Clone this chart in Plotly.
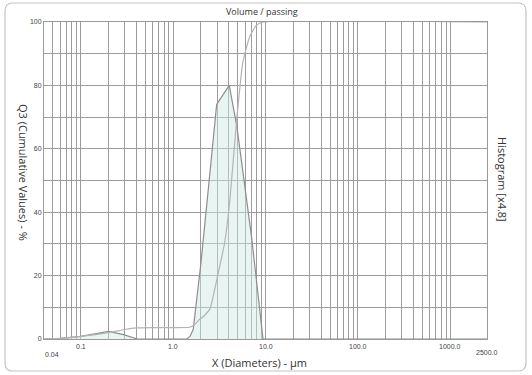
import math
import plotly.graph_objects as go

# ---------------- data ----------------
# density / histogram curve (x4.8), volume %
hist_x = [0.04, 0.06, 0.1, 0.2, 0.29, 0.41, 1.41, 1.52, 1.65, 1.8, 2.0, 2.38, 2.96, 4.05, 4.9, 7.08, 9.4, 2500]
hist_y = [0.0, 0.2, 0.8, 2.4, 1.4, 0.0, 0.0, 0.8, 3.0, 12.0, 24.0, 46.0, 74.0, 80.0, 67.0, 32.0, 0.0, 0.0]

# cumulative Q3 curve, %
cum_x = [0.04, 0.06, 0.1, 0.2, 0.3, 0.4, 0.6, 1.0, 1.5, 1.7, 1.9, 2.2, 2.5, 2.96, 3.64, 4.12, 4.87, 5.7, 6.78, 8.0, 9.4, 2500]
cum_y = [0.0, 0.2, 0.8, 2.0, 3.0, 3.5, 3.6, 3.6, 3.7, 4.5, 6.0, 7.5, 9.5, 18.5, 31.0, 44.0, 69.0, 87.5, 95.5, 99.0, 100.0, 100.0]

x_grid_vals = [0.05, 0.06, 0.07, 0.08, 0.09, 0.1, 0.2, 0.3, 0.4, 0.5, 0.6, 0.7, 0.8, 0.9,
               1, 2, 3, 4, 5, 6, 7, 8, 9, 10, 20, 30, 40, 50, 60, 70, 80, 90,
               100, 200, 300, 400, 500, 600, 700, 800, 900, 1000]
x_tick_vals = [0.04, 0.1, 1, 10, 100, 1000, 2500]
x_tick_text = ["0.04", "0.1", "1.0", "10.0", "100.0", "1000.0", "2500.0"]
y_grid_vals = [0, 10, 20, 30, 40, 50, 60, 70, 80, 90, 100]
y_tick_text = ["0", "", "20", "", "40", "", "60", "", "80", "", "100"]

# ---------------- figure ----------------
W, H = 532, 375
L, R, T, B = 44, 45, 22, 36
pw, ph = W - L - R, H - T - B

def px(xp):
    return (xp - L) / pw

def py(yp):
    return (H - B - yp) / ph

fig = go.Figure()
fig.add_trace(go.Scatter(
    x=hist_x, y=hist_y, mode="lines",
    line=dict(color="#8e8e8e", width=1.2),
    fill="tozeroy", fillcolor="rgba(205,233,228,0.45)",
    hoverinfo="skip", showlegend=False))
fig.add_trace(go.Scatter(
    x=cum_x, y=cum_y, mode="lines",
    line=dict(color="#b4b4b4", width=1.2, shape="spline", smoothing=0.5),
    hoverinfo="skip", showlegend=False))

fig.update_layout(
    width=W, height=H,
    margin=dict(l=L, r=R, t=T, b=B),
    paper_bgcolor="white", plot_bgcolor="white",
    showlegend=False,
    font=dict(family="Open Sans", color="#333"),
)
fig.update_xaxes(
    type="log", range=[math.log10(0.04), math.log10(2500)],
    tickvals=x_grid_vals, showticklabels=False, ticks="",
    showgrid=True, gridcolor="#9c9c9c", gridwidth=1,
    showline=True, mirror=True, linecolor="#999999", linewidth=1,
    zeroline=False,
)
fig.update_yaxes(
    range=[0, 100], tickvals=y_grid_vals, ticktext=y_tick_text,
    tickfont=dict(family="Liberation Sans", size=7, color="#444"),
    ticks="", showgrid=True, gridcolor="#9c9c9c", gridwidth=1,
    showline=True, mirror=True, linecolor="#999999", linewidth=1,
    zeroline=False,
)

# x tick labels (custom placement)
label_y_px = {"0.04": 354, "2500.0": 352}
for v, t in zip(x_tick_vals, x_tick_text):
    ypix = label_y_px.get(t, 346)
    xa = "center"
    xs = 0
    if t == "0.04":
        xa, xs = "left", -1
    fig.add_annotation(
        x=math.log10(v), xref="x", y=py(ypix), yref="paper",
        text=t, showarrow=False, xanchor=xa, xshift=xs, yanchor="middle",
        font=dict(family="Liberation Sans", size=7, color="#444"))

# titles
def title(xp, yp, text, size, angle=0):
    fig.add_annotation(x=px(xp), y=py(yp), xref="paper", yref="paper",
                       text=text, showarrow=False, textangle=angle,
                       xanchor="center", yanchor="middle",
                       font=dict(family="Open Sans", size=size, color="#333"))

title(262, 12, "Volume / passing", 9)
title(259, 362, "X (Diameters) - µm", 11)
title(23, 172, "Q3 (Cumulative Values) - %", 11, 90)
title(503, 180, "Histogram [x4.8]", 11, 90)

# outer rounded frame
x0, x1, y0, y1, r = 5, 526, 3, 371, 8
path = (f"M {px(x0 + r)} {py(y0)} L {px(x1 - r)} {py(y0)} "
        f"Q {px(x1)} {py(y0)} {px(x1)} {py(y0 + r)} "
        f"L {px(x1)} {py(y1 - r)} Q {px(x1)} {py(y1)} {px(x1 - r)} {py(y1)} "
        f"L {px(x0 + r)} {py(y1)} Q {px(x0)} {py(y1)} {px(x0)} {py(y1 - r)} "
        f"L {px(x0)} {py(y0 + r)} Q {px(x0)} {py(y0)} {px(x0 + r)} {py(y0)} Z")
fig.add_shape(type="path", path=path, xref="paper", yref="paper",
              line=dict(color="#c4c4c4", width=1.2), layer="below")

fig.write_html("out.html")
